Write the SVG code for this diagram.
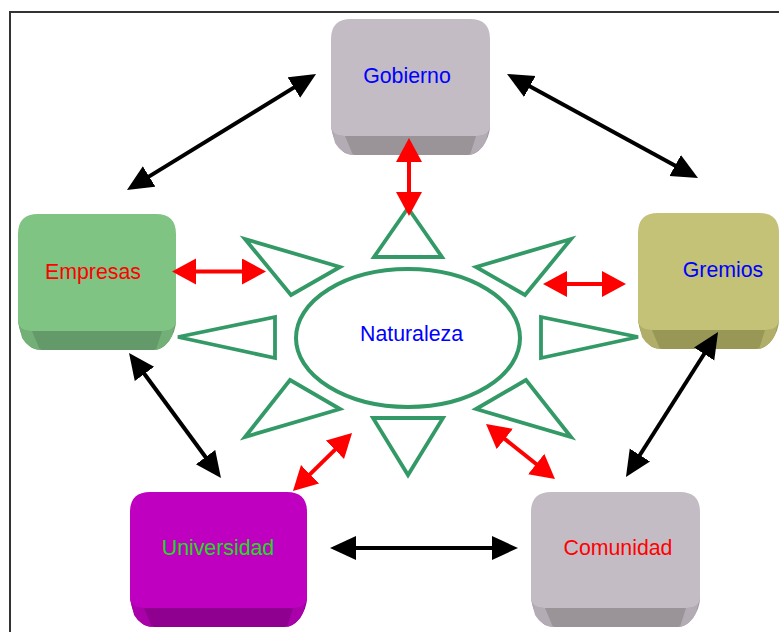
<svg xmlns="http://www.w3.org/2000/svg" width="779" height="632" viewBox="0 0 779 632">
<style>
.lbl{font-family:"Liberation Sans",Arial,sans-serif;font-size:21.3px;text-anchor:middle}
.ray{fill:none;stroke:#339966;stroke-width:3.8;stroke-linejoin:miter}
.blk{stroke:#000;stroke-width:4;fill:none}
.red{stroke:#ff0000;stroke-width:4;fill:none}
.frame{stroke:#333;stroke-width:2;fill:none}
</style>
<defs>
<marker id="ab" markerUnits="userSpaceOnUse" markerWidth="28" markerHeight="26" refX="8" refY="12" orient="auto-start-reverse" viewBox="0 0 28 26">
<path d="M0,0 L26,12 L0,24 Z" fill="#000"/>
</marker>
<marker id="ar" markerUnits="userSpaceOnUse" markerWidth="26" markerHeight="28" refX="6" refY="13" orient="auto-start-reverse" viewBox="0 0 26 28">
<path d="M0,0 L24,13 L0,26 Z" fill="#ff0000"/>
</marker>
</defs>
<rect width="779" height="632" fill="#fff"/>
<path class="frame" d="M10,632 V12 H779"/>

<g id="gobierno" transform="translate(331,19)">
<path d="M0,100 V106 Q2,126 14,134 Q18,136 24,136 H137 Q145,136 151,128 Q159,118 159,106 V100 Z" fill="#9a9398"/>
<path d="M0,106 Q0,117 14,117 L22,136 Q10,134 4,124 Z" fill="#b3acb4"/>
<path d="M159,106 Q159,117 145,117 L139,136 Q151,132 155,122 Z" fill="#b3acb4"/>
<path d="M0,20 Q0,0 20,0 H139 Q159,0 159,20 V106 Q159,117 145,117 H14 Q0,117 0,106 Z" fill="#c3bcc4"/>
<text class="lbl" x="76" y="64" fill="#0000ff">Gobierno</text>
</g>

<g id="empresas" transform="translate(18,214)">
<path d="M0,100 V106 Q2,126 14,134 Q18,136 24,136 H136 Q144,136 150,128 Q158,118 158,106 V100 Z" fill="#64996a"/>
<path d="M0,106 Q0,117 14,117 L22,136 Q10,134 4,124 Z" fill="#73b077"/>
<path d="M158,106 Q158,117 144,117 L138,136 Q150,132 154,122 Z" fill="#73b077"/>
<path d="M0,20 Q0,0 20,0 H138 Q158,0 158,20 V106 Q158,117 144,117 H14 Q0,117 0,106 Z" fill="#80c483"/>
<text class="lbl" x="75" y="65" fill="#ff0000">Empresas</text>
</g>

<g id="gremios" transform="translate(638,213)">
<path d="M0,100 V106 Q2,126 14,134 Q18,136 24,136 H119 Q127,136 133,128 Q141,118 141,106 V100 Z" fill="#999756"/>
<path d="M0,106 Q0,117 14,117 L22,136 Q10,134 4,124 Z" fill="#b0ae68"/>
<path d="M141,106 Q141,117 127,117 L121,136 Q133,132 137,122 Z" fill="#b0ae68"/>
<path d="M0,20 Q0,0 20,0 H121 Q141,0 141,20 V106 Q141,117 127,117 H14 Q0,117 0,106 Z" fill="#c3c277"/>
<text class="lbl" x="85" y="64" fill="#0000ff">Gremios</text>
</g>

<g id="universidad" transform="translate(130,492)">
<path d="M0,99 V105 Q2,125 14,133 Q18,135 24,135 H155 Q163,135 169,127 Q177,117 177,105 V99 Z" fill="#900090"/>
<path d="M0,105 Q0,116 14,116 L22,135 Q10,133 4,123 Z" fill="#a900a9"/>
<path d="M177,105 Q177,116 163,116 L157,135 Q169,131 173,121 Z" fill="#a900a9"/>
<path d="M0,20 Q0,0 20,0 H157 Q177,0 177,20 V105 Q177,116 163,116 H14 Q0,116 0,105 Z" fill="#c000c0"/>
<text class="lbl" x="88" y="63" fill="#22dd22">Universidad</text>
</g>

<g id="comunidad" transform="translate(531,492)">
<path d="M0,99 V105 Q2,125 14,133 Q18,135 24,135 H147 Q155,135 161,127 Q169,117 169,105 V99 Z" fill="#9a9398"/>
<path d="M0,105 Q0,116 14,116 L22,135 Q10,133 4,123 Z" fill="#b3acb4"/>
<path d="M169,105 Q169,116 155,116 L149,135 Q161,131 165,121 Z" fill="#b3acb4"/>
<path d="M0,20 Q0,0 20,0 H149 Q169,0 169,20 V105 Q169,116 155,116 H14 Q0,116 0,105 Z" fill="#c3bcc4"/>
<text class="lbl" x="87" y="63" fill="#ff0000">Comunidad</text>
</g>

<g id="naturaleza">
<ellipse cx="408" cy="338" rx="112" ry="69" fill="#fff" stroke="#339966" stroke-width="4"/>
<polygon class="ray" points="408,208 374,257 442,257"/>
<polygon class="ray" points="373,418 443,418 408,475"/>
<polygon class="ray" points="245,239 340,267 291,295"/>
<polygon class="ray" points="275,317 275,358 178,337"/>
<polygon class="ray" points="290,380 340,409 245,437"/>
<polygon class="ray" points="571,239 476,267 525,295"/>
<polygon class="ray" points="541,317 541,358 638,337"/>
<polygon class="ray" points="526,380 476,409 571,437"/>
<text class="lbl" x="411.5" y="341" fill="#0000ff">Naturaleza</text>
</g>

<g id="connectors">
<line class="blk" x1="142.3" y1="180.6" x2="300.7" y2="83.4" marker-start="url(#ab)" marker-end="url(#ab)"/>
<line class="blk" x1="522.8" y1="82.6" x2="682.2" y2="169.4" marker-start="url(#ab)" marker-end="url(#ab)"/>
<line class="blk" x1="139.7" y1="367.5" x2="210.3" y2="463.5" marker-start="url(#ab)" marker-end="url(#ab)"/>
<line class="blk" x1="708.4" y1="347.2" x2="635.6" y2="461.8" marker-start="url(#ab)" marker-end="url(#ab)"/>
<line class="blk" x1="348" y1="548" x2="500" y2="548" marker-start="url(#ab)" marker-end="url(#ab)"/>
<line class="red" x1="409" y1="156" x2="409" y2="198" marker-start="url(#ar)" marker-end="url(#ar)"/>
<line class="red" x1="190" y1="271.5" x2="248" y2="271.5" marker-start="url(#ar)" marker-end="url(#ar)"/>
<line class="red" x1="561" y1="284" x2="608" y2="284" marker-start="url(#ar)" marker-end="url(#ar)"/>
<line class="red" x1="305.8" y1="478.4" x2="339.2" y2="445.6" marker-start="url(#ar)" marker-end="url(#ar)"/>
<line class="red" x1="500.1" y1="435.2" x2="540.9" y2="467.8" marker-start="url(#ar)" marker-end="url(#ar)"/>
</g>
</svg>
